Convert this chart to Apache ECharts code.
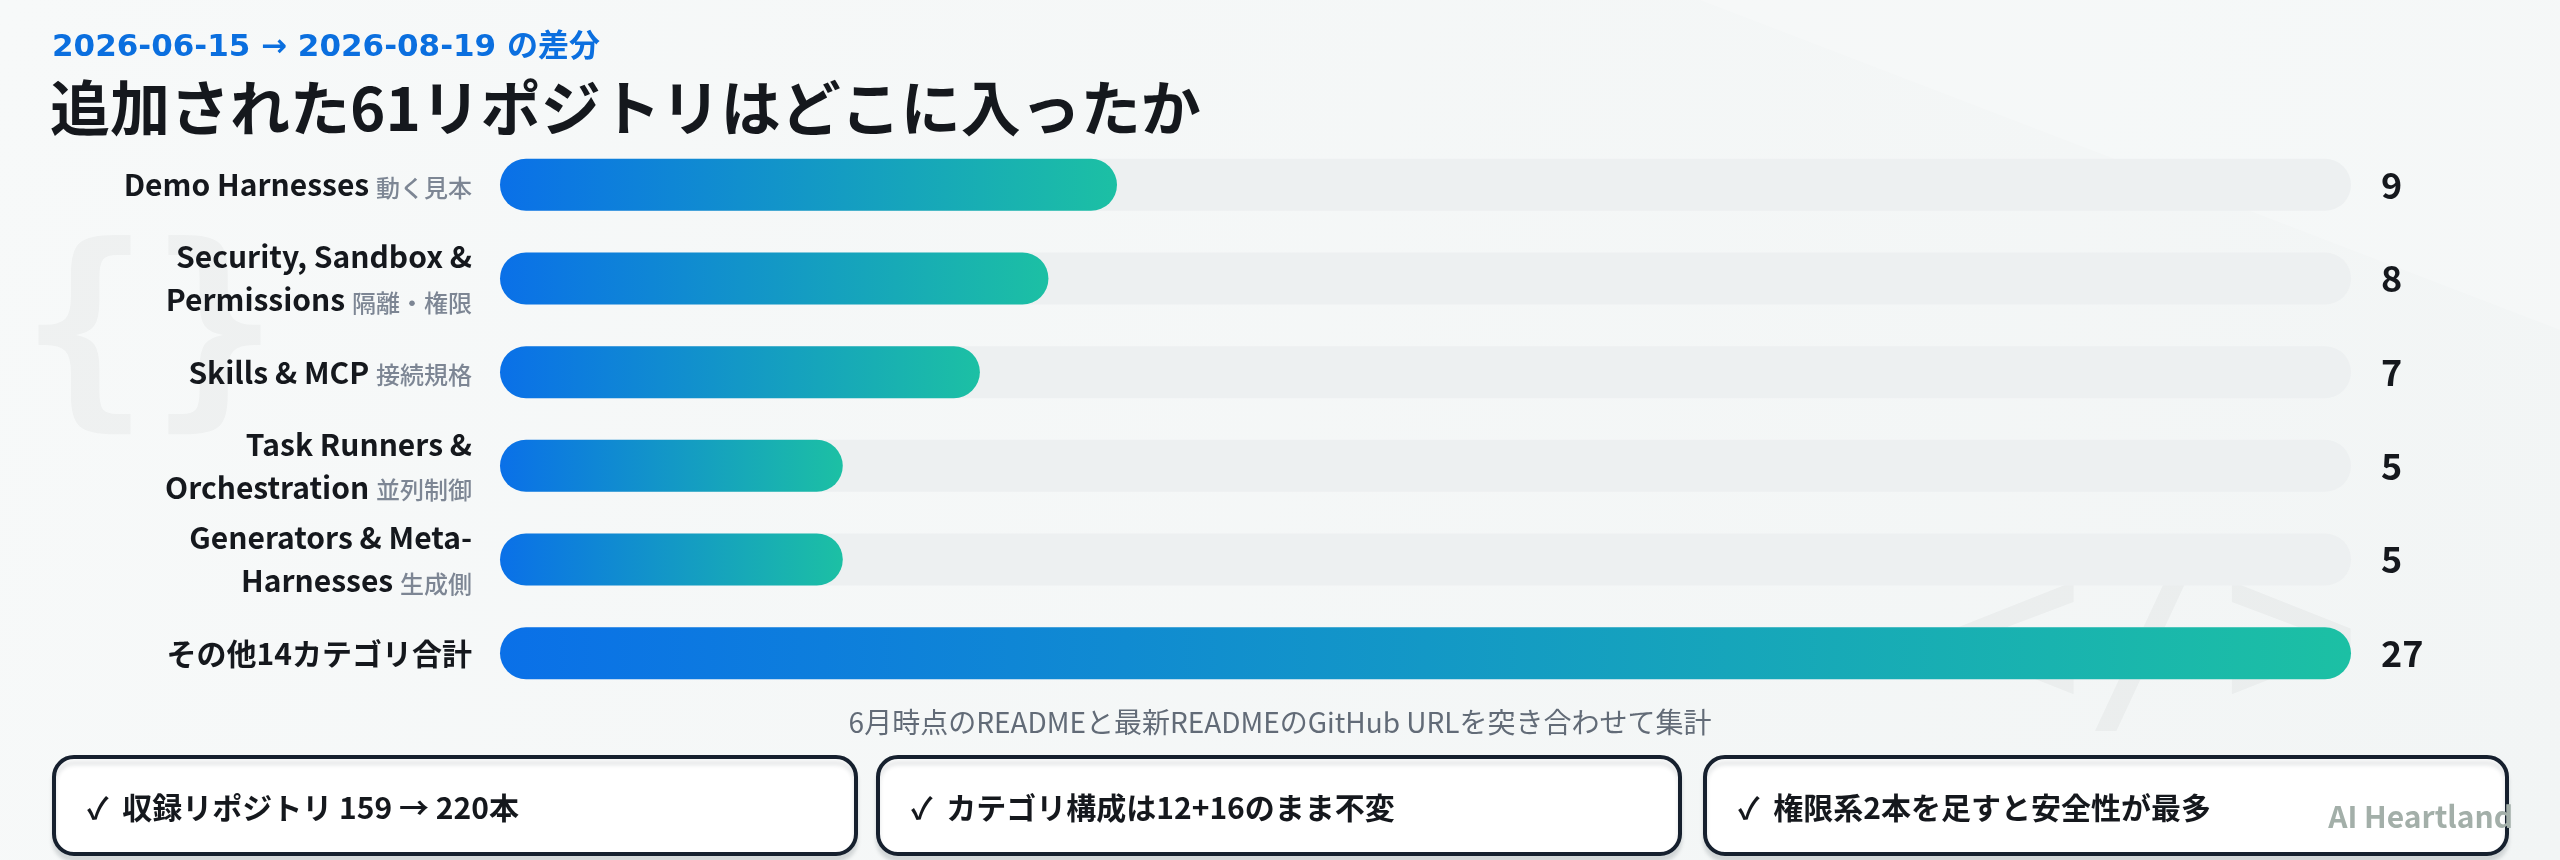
<!DOCTYPE html>
<html>
<head>
<meta charset="utf-8">
<script src="https://cdn.jsdelivr.net/npm/echarts@6/dist/echarts.min.js"></script>
<style>
html,body{margin:0;padding:0;background:#f5f7f7;}
#c{width:2560px;height:860px;}
</style>
</head>
<body>
<div id="c"></div>
<script>
// ---- data ----
const subtitleText = '2026-06-15 → 2026-08-19 の差分';
const titleText = '追加された61リポジトリはどこに入ったか';
const categories = [
  'Demo Harnesses',
  'Security, Sandbox &\nPermissions',
  'Skills & MCP',
  'Task Runners &\nOrchestration',
  'Generators & Meta-\nHarnesses',
  'その他14カテゴリ合計'
];
const categoryNotes = ['動く見本', '隔離・権限', '接続規格', '並列制御', '生成側', ''];
const values = [9, 8, 7, 5, 5, 27];
const captionText = '6月時点のREADMEと最新READMEのGitHub URLを突き合わせて集計';
const cardTexts = [
  '✓  収録リポジトリ 159 → 220本',
  '✓  カテゴリ構成は12+16のまま不変',
  '✓  権限系2本を足すと安全性が最多'
];
const brandText = 'AI Heartland';

// ---- chart ----
const FONT = '"Noto Sans CJK JP", "Noto Sans", sans-serif';
const maxVal = Math.max.apply(null, values);
const chart = echarts.init(document.getElementById('c'), null, {renderer: 'canvas'});

const cardX = [54, 878, 1705];
const cardW = 802;
const graphics = [
  // faint light wedge top-right
  {type: 'polygon', z: 0, silent: true,
   shape: {points: [[1700, 0], [2560, 0], [2560, 330]]},
   style: {fill: 'rgba(255,255,255,0.22)'}},
  // faint decorative glyphs
  {type: 'text', left: 20, top: 236, z: 0, silent: true,
   style: {text: '{}', font: 'bold 215px "DejaVu Sans Mono", monospace', fill: 'rgba(20,30,40,0.035)'}},
  {type: 'text', left: 1945, top: 535, z: 0, silent: true,
   style: {text: '</>', font: '230px "DejaVu Sans Mono", monospace', fill: 'rgba(20,30,40,0.035)'}},
  // titles
  {type: 'text', x: 52, y: 48, z: 10,
   style: {text: subtitleText, font: 'bold 31px "DejaVu Sans", "Noto Sans CJK JP", sans-serif', fill: '#0b6fdf', textVerticalAlign: 'middle'}},
  {type: 'text', x: 50, y: 108, z: 10,
   style: {text: titleText, font: 'bold 60px ' + FONT, fill: '#15181d', textVerticalAlign: 'middle'}},
  // caption
  {type: 'text', x: 1280, y: 722, z: 10,
   style: {text: captionText, font: '28px ' + FONT, fill: '#626b77', textAlign: 'center', textVerticalAlign: 'middle'}}
];
cardTexts.forEach((t, i) => {
  graphics.push({type: 'rect', z: 5,
    shape: {x: cardX[i], y: 757, width: cardW, height: 97, r: 20},
    style: {fill: '#ffffff', stroke: '#16202e', lineWidth: 4,
      shadowColor: 'rgba(20,30,45,0.12)', shadowBlur: 4, shadowOffsetY: 6}});
  graphics.push({type: 'text', z: 6, x: cardX[i] + 33, y: 808,
    style: {text: t, font: 'bold 30px ' + FONT, fill: '#15181d', textVerticalAlign: 'middle'}});
});
graphics.push({type: 'text', z: 20, x: 2513, y: 817,
  style: {text: brandText, font: 'bold 30px ' + FONT, fill: '#a3afa9', textAlign: 'right', textVerticalAlign: 'middle'}});

const option = {
  backgroundColor: {
    type: 'linear', x: 0, y: 0, x2: 1, y2: 1,
    colorStops: [{offset: 0, color: '#f7f9f9'}, {offset: 1, color: '#f2f5f5'}]
  },
  animation: false,
  textStyle: {fontFamily: FONT},
  grid: {left: 500, right: 209, top: 138, bottom: 160, containLabel: false},
  xAxis: {type: 'value', min: 0, max: maxVal, show: false},
  yAxis: {
    type: 'category', data: categories, inverse: true,
    axisLine: {show: false}, axisTick: {show: false}, splitLine: {show: false},
    axisLabel: {
      margin: 28, align: 'right',
      formatter: function (val, idx) {
        const lines = val.split('\n');
        return lines.map((l, i) => {
          let s = '{m|' + l + '}';
          if (i === lines.length - 1 && categoryNotes[idx]) s = '{m|' + l + ' }{s|' + categoryNotes[idx] + '}';
          return s;
        }).join('\n');
      },
      rich: {
        m: {fontSize: 30, fontWeight: 'bold', color: '#15181d', lineHeight: 43, fontFamily: FONT},
        s: {fontSize: 24, fontWeight: 500, color: '#7d8694', lineHeight: 43, fontFamily: FONT, padding: [6, 0, 0, 0]}
      }
    }
  },
  series: [
    {
      type: 'bar', name: 'track', barWidth: 52, silent: true, z: 1,
      data: values.map(() => maxVal),
      itemStyle: {color: '#edf0f1', borderRadius: 26},
      label: {
        show: true, position: 'right', distance: 30,
        formatter: p => String(values[p.dataIndex]),
        fontSize: 36, fontWeight: 'bold', color: '#15181d', fontFamily: FONT
      }
    },
    {
      type: 'bar', name: 'value', barWidth: 52, barGap: '-100%', z: 2,
      data: values,
      itemStyle: {
        borderRadius: 26,
        color: {type: 'linear', x: 0, y: 0, x2: 1, y2: 0,
          colorStops: [{offset: 0, color: '#0a70e8'}, {offset: 1, color: '#1cc0a4'}]}
      }
    }
  ],
  graphic: graphics
};
chart.setOption(option);
</script>
</body>
</html>
